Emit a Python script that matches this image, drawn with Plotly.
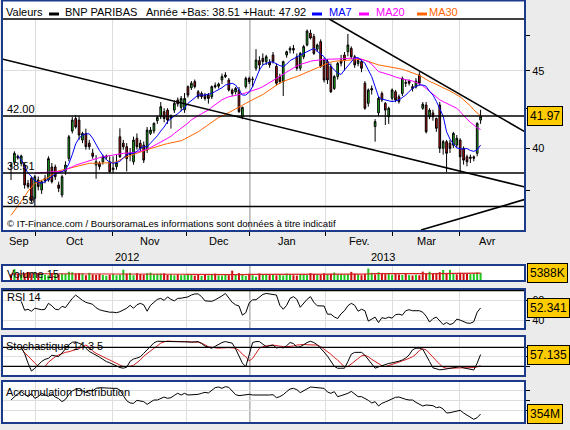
import math
import plotly.graph_objects as go

W, H = 570, 430

# ---------------- data (trading-day index 0..138) ----------------
OPEN = [38.98, 39.14, 39.50, 39.08, 38.98, 37.90, 38.20, 37.05, 38.10, 37.52,
        38.20, 38.10, 38.86, 38.86, 37.81, 37.24, 38.60, 39.37, 41.05, 41.84,
        41.74, 40.49, 40.90, 40.30, 39.70, 38.98, 39.08, 39.17, 39.45, 39.17,
        38.70, 38.88, 40.69, 40.30, 40.08, 39.60, 39.17, 40.60, 40.30, 40.18,
        39.88, 40.90, 41.05, 41.70, 41.95, 42.28, 42.38, 41.85, 42.38, 43.04,
        42.56, 42.40, 43.92, 43.85, 44.26, 43.58, 43.47, 43.36, 43.36, 43.25,
        44.00, 43.95, 44.37, 44.71, 44.37, 43.70, 43.58, 43.70, 41.95, 43.92,
        44.48, 44.40, 45.17, 45.70, 45.86, 45.63, 45.60, 46.09, 45.30, 44.60,
        44.26, 46.09, 46.44, 46.56, 45.97, 45.17, 45.97, 46.80, 47.65, 47.40,
        46.50, 47.04, 45.74, 45.63, 45.30, 43.80, 44.60, 45.74, 46.09, 46.32,
        46.56, 45.97, 45.50, 45.63, 44.15, 42.82, 43.80, 41.33, 42.20, 43.47,
        42.82, 41.95, 43.15, 43.58, 43.25, 43.47, 44.20, 44.30, 43.92, 43.90,
        44.71, 42.50, 42.71, 41.95, 42.20, 41.84, 42.71, 39.98, 40.39, 40.30,
        40.18, 40.18, 40.49, 39.98, 39.47, 39.45, 39.47, 39.68, 41.74]
HIGH = [39.15, 39.80, 39.60, 39.60, 39.10, 38.10, 38.30, 38.40, 38.30, 38.10,
        38.40, 39.50, 39.10, 39.00, 38.00, 38.40, 39.20, 40.80, 41.95, 42.05,
        42.00, 41.00, 41.20, 40.50, 39.95, 39.57, 39.20, 39.60, 39.60, 39.50,
        39.50, 39.60, 41.22, 40.50, 40.30, 40.00, 40.70, 40.90, 40.50, 40.40,
        41.30, 41.30, 41.60, 42.00, 42.90, 42.50, 42.50, 42.10, 43.00, 43.20,
        43.30, 43.50, 44.00, 44.30, 44.40, 43.70, 43.60, 43.50, 43.50, 44.00,
        44.20, 44.20, 44.80, 44.90, 44.50, 43.80, 43.90, 43.90, 42.60, 44.60,
        44.60, 44.60, 46.50, 46.00, 46.20, 46.10, 45.80, 46.30, 45.50, 44.80,
        45.70, 46.40, 46.70, 46.80, 46.20, 46.30, 46.80, 47.92, 47.90, 47.60,
        46.90, 47.20, 45.90, 45.80, 45.50, 44.70, 45.60, 46.10, 46.30, 47.60,
        46.70, 46.10, 45.90, 45.80, 44.30, 43.80, 44.00, 41.80, 43.30, 43.60,
        42.90, 42.60, 43.80, 43.70, 43.40, 44.60, 44.40, 44.40, 44.10, 44.50,
        44.90, 42.90, 42.90, 42.50, 42.40, 41.90, 42.90, 40.50, 40.50, 40.50,
        41.00, 40.80, 40.60, 40.10, 39.60, 39.60, 39.55, 41.60, 42.40]
LOW = [38.10, 39.00, 39.30, 38.90, 37.60, 37.60, 36.80, 36.58, 37.50, 37.30,
       37.90, 38.00, 37.90, 38.10, 37.40, 37.10, 38.40, 39.20, 40.90, 41.20,
       40.50, 40.30, 39.90, 39.90, 39.35, 38.17, 38.70, 39.00, 39.30, 38.50,
       38.50, 38.70, 39.40, 39.90, 38.60, 39.20, 39.00, 39.90, 39.80, 39.10,
       39.70, 40.80, 40.90, 41.50, 41.80, 41.60, 41.50, 41.20, 42.20, 42.60,
       42.30, 42.20, 43.20, 43.70, 43.80, 43.10, 43.10, 43.00, 42.80, 43.10,
       43.80, 43.80, 44.10, 44.50, 43.60, 43.30, 43.40, 42.20, 41.80, 43.80,
       44.10, 43.90, 45.00, 45.00, 45.40, 45.40, 45.20, 45.50, 44.00, 44.10,
       43.30, 45.90, 46.20, 46.20, 45.00, 45.00, 45.80, 46.70, 47.20, 46.10,
       46.30, 45.20, 44.20, 44.10, 43.50, 43.70, 44.40, 45.30, 45.00, 46.00,
       45.80, 45.20, 45.30, 44.90, 42.40, 42.60, 43.40, 40.39, 42.00, 42.90,
       41.43, 41.50, 43.00, 42.90, 42.80, 43.30, 43.90, 44.00, 43.60, 43.80,
       44.00, 42.40, 40.90, 41.80, 41.70, 41.00, 39.70, 39.60, 38.55, 39.70,
       40.00, 40.00, 38.51, 39.00, 38.90, 39.10, 39.20, 39.50, 41.50]
CLOSE = [38.92, 39.68, 39.40, 39.52, 37.81, 37.72, 36.95, 38.29, 37.72, 38.00,
         38.05, 39.36, 38.00, 38.29, 37.62, 38.29, 38.98, 40.69, 41.74, 41.30,
         40.80, 40.90, 40.08, 40.08, 39.50, 39.17, 38.88, 39.47, 39.50, 38.58,
         38.80, 39.10, 39.47, 40.08, 39.36, 39.70, 40.49, 40.08, 39.98, 39.27,
         41.11, 41.11, 41.53, 41.91, 42.60, 41.84, 41.74, 42.00, 42.82, 42.78,
         43.14, 43.14, 43.36, 44.15, 43.92, 43.25, 43.25, 43.14, 43.14, 43.92,
         43.90, 44.10, 44.60, 44.60, 43.70, 43.47, 43.80, 42.28, 42.56, 44.48,
         44.26, 44.42, 45.74, 45.40, 45.63, 45.97, 45.40, 45.63, 44.15, 44.26,
         45.63, 46.32, 46.56, 46.44, 45.17, 46.20, 46.68, 47.80, 47.30, 46.20,
         46.80, 45.30, 44.37, 44.37, 43.58, 44.60, 45.50, 45.52, 45.74, 46.80,
         45.97, 45.40, 45.70, 45.17, 42.50, 43.70, 43.70, 41.64, 43.14, 43.04,
         42.38, 42.50, 43.70, 43.04, 42.93, 44.48, 44.15, 44.15, 43.80, 44.30,
         44.15, 42.76, 41.00, 42.38, 41.95, 41.22, 39.98, 40.39, 39.68, 39.98,
         40.90, 40.60, 39.47, 39.27, 39.17, 39.38, 39.38, 41.53, 41.97]

VOLUME_K = [4200, 8200, 4500, 3800, 5200, 6000, 4300, 5800, 5200, 4600,
            4000, 3500, 5200, 4700, 4200, 5000, 4600, 6200, 5800, 4800,
            5200, 4900, 3600, 5400, 4200, 3900, 4400, 3700, 3200, 4000,
            4500, 3600, 4100, 7700, 4800, 5300, 3600, 5000, 4400, 4000,
            5100, 5500, 4200, 4600, 4800, 5000, 3900, 4300, 3500, 4200,
            3600, 3900, 4100, 3700, 3300, 4400, 3000, 3800, 3400, 3900,
            4800, 3500, 3300, 4000, 3600, 7000, 3800, 5200, 4200, 3000,
            4700, 3600, 2500, 4900, 3800, 4200, 3700, 4100, 3500, 4500,
            3400, 4800, 3800, 3600, 3300, 4400, 4100, 3700, 5200, 4600,
            4300, 3900, 5000, 4400, 4700, 5600, 4200, 4500, 3800, 4300,
            6100, 4800, 4400, 3600, 4600, 8600, 5400, 4200, 5800, 5300,
            4400, 4900, 3900, 5000, 4200, 3800, 4600, 3700, 3400, 4000,
            3600, 6300, 4800, 6200, 5000, 4600, 5900, 7500, 5200, 7600,
            4800, 4300, 5400, 5100, 4600, 4400, 4900, 5600, 5388]
VOLUME_MA15_K = [4400, 4500, 4500, 4500, 4550, 4600, 4600, 4650, 4700, 4700,
                 4700, 4650, 4650, 4700, 4700, 4700, 4750, 4800, 4850, 4850,
                 4850, 4850, 4800, 4800, 4750, 4700, 4650, 4600, 4500, 4450,
                 4450, 4400, 4400, 4550, 4600, 4600, 4550, 4550, 4550, 4550,
                 4600, 4650, 4650, 4600, 4650, 4650, 4600, 4550, 4450, 4400,
                 4350, 4300, 4250, 4200, 4150, 4100, 4050, 4000, 3950, 3950,
                 3950, 3900, 3900, 3900, 3850, 4050, 4050, 4100, 4100, 4050,
                 4100, 4050, 3950, 3950, 3950, 3950, 3950, 3900, 3900, 3900,
                 3950, 3950, 3950, 3950, 3950, 3950, 4000, 4000, 4050, 4050,
                 4100, 4100, 4150, 4200, 4250, 4300, 4300, 4350, 4350, 4400,
                 4450, 4450, 4450, 4450, 4500, 4750, 4800, 4800, 4850, 4900,
                 4900, 4950, 4950, 5000, 5000, 4950, 4900, 4850, 4800, 4800,
                 4750, 4600, 4650, 4700, 4700, 4750, 4800, 5000, 5050, 5200,
                 5200, 5200, 5250, 5250, 5250, 5200, 5200, 5200, 5150]

MA7_START = 2
MA7 = [39.5, 39.3, 38.85, 38.5, 38.3, 38.05, 37.97, 37.92,
       38.0, 38.15, 38.3, 38.45, 38.53, 38.58, 38.7, 39.05, 39.6, 40.25,
       40.6, 40.8, 40.87, 40.88, 40.6, 40.2, 39.85, 39.55, 39.3, 39.15,
       39.08, 39.12, 39.2, 39.4, 39.6, 39.68, 39.68, 39.8, 39.98, 40.08,
       40.08, 40.3, 40.5, 40.75, 41.05, 41.3, 41.65, 41.85, 42.0, 42.15,
       42.35, 42.52, 42.82, 43.0, 43.2, 43.36, 43.36, 43.36, 43.42, 43.47,
       43.6, 43.7, 43.85, 44.03, 44.1, 44.15, 44.03, 43.7, 43.36, 43.36,
       43.55, 43.92, 44.48, 45.05, 45.4, 45.52, 45.6, 45.6, 45.45, 45.35,
       45.29, 45.45, 45.7, 45.85, 45.95, 46.09, 46.2, 46.32, 46.45, 46.56,
       46.35, 46.15, 45.97, 45.6, 45.29, 45.05, 44.83, 44.75, 45.05, 45.35,
       45.63, 45.9, 45.9, 45.74, 45.52, 45.05, 44.6, 43.92, 43.25, 43.1,
       43.04, 42.98, 42.93, 42.98, 43.04, 43.2, 43.36, 43.6, 43.81, 43.95,
       44.03, 44.03, 43.95, 43.6, 43.36, 42.95, 42.5, 42.0, 41.0, 40.55,
       40.25, 40.0, 39.96, 39.94, 39.97, 39.85, 39.8, 39.88, 40.18]
MA20_START = 7
MA20 = [38.5, 38.52, 38.54,
        38.56, 38.58, 38.6, 38.6, 38.6, 38.6, 38.68, 38.77, 38.87, 38.97,
        39.04, 39.1, 39.17, 39.24, 39.31, 39.37, 39.42, 39.47, 39.51, 39.55,
        39.6, 39.64, 39.66, 39.68, 39.69, 39.7, 39.71, 39.75, 39.8, 39.86,
        39.93, 40.03, 40.13, 40.25, 40.37, 40.48, 40.6, 40.72, 40.9, 41.05,
        41.2, 41.37, 41.55, 41.75, 41.9, 42.05, 42.15, 42.27, 42.38, 42.57,
        42.75, 42.92, 43.05, 43.15, 43.25, 43.29, 43.33, 43.37, 43.44, 43.51,
        43.58, 43.66, 43.73, 43.81, 43.92, 44.04, 44.18, 44.33, 44.48, 44.63,
        44.78, 44.93, 45.08, 45.2, 45.33, 45.43, 45.52, 45.6, 45.65, 45.7,
        45.73, 45.76, 45.78, 45.8, 45.8, 45.8, 45.79, 45.8, 45.83, 45.86,
        45.86, 45.86, 45.86, 45.8, 45.72, 45.63, 45.45, 45.2, 44.94, 44.88,
        44.82, 44.75, 44.66, 44.57, 44.48, 44.44, 44.4, 44.37, 44.3, 44.22,
        44.12, 43.98, 43.8, 43.62, 43.42, 43.22, 43.05, 42.93, 42.82, 42.72,
        42.61, 42.5, 42.28, 42.02, 41.8, 41.6, 41.42, 41.25, 41.15]
MA30_START = 0
MA30 = [36.1, 36.35, 36.6, 36.9, 37.15, 37.45, 37.7, 37.9, 38.0, 38.08,
        38.15, 38.25, 38.4, 38.55, 38.63, 38.68, 38.72, 38.77, 38.84, 38.9,
        38.95, 38.98, 39.03, 39.08, 39.08, 39.08, 39.1, 39.11, 39.1, 39.08,
        39.12, 39.17, 39.3, 39.4, 39.47, 39.55, 39.63, 39.7, 39.76, 39.83,
        39.9, 39.97, 40.05, 40.11, 40.16, 40.22, 40.27, 40.31, 40.35, 40.4,
        40.45, 40.55, 40.65, 40.78, 40.9, 41.0, 41.15, 41.3, 41.43, 41.6,
        41.77, 41.9, 42.0, 42.1, 42.2, 42.33, 42.46, 42.6, 42.7, 42.82,
        42.93, 43.04, 43.15, 43.25, 43.4, 43.55, 43.72, 43.87, 44.02, 44.17,
        44.27, 44.37, 44.46, 44.53, 44.6, 44.7, 44.8, 44.9, 45.0, 45.1,
        45.2, 45.3, 45.38, 45.5, 45.6, 45.65, 45.68, 45.7, 45.72, 45.73,
        45.74, 45.76, 45.78, 45.79, 45.72, 45.63, 45.55, 45.47, 45.4, 45.36,
        45.32, 45.29, 45.25, 45.2, 45.17, 45.1, 45.02, 44.94, 44.86, 44.78,
        44.68, 44.55, 44.4, 44.27, 44.18, 44.08, 43.97, 43.86, 43.75, 43.63,
        43.5, 43.4, 43.25, 43.05, 42.87, 42.65, 42.4, 42.2, 42.0]

RSI_START = 3
RSI = [59, 50, 51, 49, 52, 51.5, 50.5,
       51, 57, 54.5, 51, 50.5, 54, 52.7, 58, 62, 65.4,
       62.2, 60, 58, 57, 56, 52.5, 50.5, 49.5, 48.5, 48,
       48, 47.5, 48.5, 50.5, 52, 55, 52, 55.5, 57, 55.5,
       49, 55, 58.5, 61, 62, 60, 63.5, 61, 59.5, 62,
       62.2, 62.5, 63.5, 65.4, 66.5, 66.5, 63.8, 59.5, 59, 59,
       60.5, 62.2, 64.5, 67, 62, 58, 55.5, 54.3, 45, 47.5,
       57.5, 60.6, 60.6, 63.8, 66, 67, 66.5, 66, 65.4, 55,
       51, 55, 62, 63.8, 61, 53, 57, 61, 63.8, 58,
       54.5, 54.3, 54.3, 46, 46, 43.2, 41.6, 46.4, 49.5, 54.5,
       57, 55, 49, 51, 49.5, 39, 41, 43, 37.5, 42.5,
       41.6, 43, 42, 45.5, 46, 45, 49.5, 50.5, 49.5, 49.5,
       49.5, 48, 44, 38, 41.5, 43, 39.5, 35.5, 37.5, 35.5,
       36.8, 41, 40, 38.5, 37, 36.8, 38.4, 48, 52.341]

STOCH_START = 3
STOCH_K = [80, 60, 30, 5, 13.7, 24, 35,
           42, 45, 55, 53, 50.6, 62, 76, 88, 96, 97,
           92.7, 88, 77, 67, 61, 56, 49, 42, 35, 31,
           26, 21, 16, 14, 17, 36, 43, 46, 50, 61,
           73, 84, 94, 99, 99, 98, 98, 98, 98, 98,
           98, 98, 97, 96, 97, 98, 92, 84, 80, 77,
           83, 90, 95, 98, 96, 93, 75, 50, 30, 19,
           60, 95, 98, 98, 90, 82, 85, 87, 78, 80,
           78, 85, 95, 92, 80, 82, 88, 95, 99, 95,
           88, 78, 65, 52, 35, 20, 13.7, 13.7, 14, 35,
           58, 64, 64, 64, 55, 40, 25, 14, 18, 22,
           26, 29, 31, 33, 36, 40, 46, 56, 72, 77,
           77, 74, 56, 35, 15, 11, 9, 10, 12, 13.7,
           16, 18, 19, 15, 12, 10, 8.4, 30, 57.135]
STOCH_D = [77, 62, 53, 40, 30, 20, 19,
           19, 33, 43, 50, 56, 61, 64, 66, 69, 72,
           76, 82, 87, 80, 68, 61, 55, 50, 45, 40,
           34, 30, 24, 19, 19, 20, 23, 31, 40, 52,
           60, 68, 76, 86, 93, 97, 100, 99, 98, 98,
           98, 98, 98, 98, 98, 96, 93, 87, 82, 80,
           78, 77, 78, 79, 79, 78, 77, 70, 58, 50,
           37, 45, 62, 77, 82, 85, 86, 87, 85, 82,
           82, 82, 82, 84, 87, 89, 89, 88, 88, 87,
           87, 82, 74, 67, 58, 48, 40, 28, 19, 19,
           27, 35, 45, 53, 55, 50, 42, 35, 28, 22,
           19, 22, 26, 29, 33, 37, 40, 45, 50, 58,
           70, 75, 72, 60, 48, 35, 26, 17, 14, 14,
           14, 15, 15, 16, 16, 16, 16, 18, 22]

AD_M = [396, 405, 415, 421, 412, 406, 415, 401, 406, 416,
        411, 407, 414, 405, 400, 391, 398, 413, 423, 428,
        424, 424, 418, 425, 423, 431, 433, 432, 431, 431,
        431, 431, 426, 409, 394, 387, 386, 395, 392, 391,
        383, 389, 396, 396, 400, 405, 401, 403, 410, 416,
        411, 416, 411, 411, 413, 413, 416, 419, 417, 426,
        433, 435, 431, 436, 434, 423, 412, 409, 410, 412,
        413, 411, 411, 410, 409, 409, 411, 412, 403, 406,
        412, 421, 429, 431, 427, 418, 424, 430, 435, 434,
        433, 433, 431, 420, 416, 421, 406, 409, 412, 416,
        422, 415, 406, 406, 401, 395, 387, 391, 378, 386,
        390, 395, 399, 404, 405, 401, 398, 396, 396, 389,
        383, 378, 381, 379, 379, 373, 375, 369, 357, 358,
        360, 361, 365, 357, 351, 346, 338, 343, 354]

LEVELS = [42.00, 38.51, 36.59]
LEVEL_LABELS = ["42.00", "38.51", "36.59"]
TRENDLINES = [((-2.65, 45.81), (151.05, 37.69)),
              ((93.5, 48.69), (151.05, 41.00)),
              ((120.5, 35.30), (151.05, 36.99))]
MONTH_BOUNDS = [7.05, 29.7, 51.7, 92.3, 112.0, 131.9]
YEAR_BOUND = 70.2
MONTH_LABELS = ["Sep", "Oct", "Nov", "Dec", "Jan", "Fev.", "Mar", "Avr"]
MONTH_LABEL_POS = [2.35, 18.8, 40.8, 61.0, 81.0, 102.5, 122.2, 139.9]
YEAR_LABELS = ["2012", "2013"]
YEAR_LABEL_POS = [34.0, 109.2]

PRICE_RANGE = [35.25, 48.69]
X_RANGE = [-2.65, 151.05]

# ---------------- styling ----------------
FONT = "Liberation Sans"
NAVY = "#1b3a8a"
GRID = "#dedede"
UP = "#1ec81e"
DOWN = "#cc1010"
BG = "#ebebeb"

n = len(CLOSE)
idx = list(range(n))


def ydom(top_px, bot_px):
    return [1 - bot_px / H, 1 - top_px / H]


def px_x(p):
    return p / W


def px_y(p):
    return 1 - p / H


fig = go.Figure()

# price panel
fig.add_trace(go.Candlestick(
    x=idx, open=OPEN, high=HIGH, low=LOW, close=CLOSE,
    increasing=dict(fillcolor=UP, line=dict(color="black", width=1)),
    decreasing=dict(fillcolor=DOWN, line=dict(color="black", width=1)),
    whiskerwidth=0, hoverinfo="skip", xaxis="x", yaxis="y"))
for start, vals, col in [(MA30_START, MA30, "#ff6600"), (MA20_START, MA20, "#ff00ff"),
                         (MA7_START, MA7, "#0000ff")]:
    fig.add_trace(go.Scatter(x=idx[start:start + len(vals)], y=vals, mode="lines",
                             line=dict(color=col, width=1), xaxis="x", yaxis="y"))
for lv in LEVELS:
    fig.add_trace(go.Scatter(x=X_RANGE, y=[lv, lv], mode="lines",
                             line=dict(color="black", width=1.5), xaxis="x", yaxis="y"))
for (x0, y0), (x1, y1) in TRENDLINES:
    fig.add_trace(go.Scatter(x=[x0, x1], y=[y0, y1], mode="lines",
                             line=dict(color="black", width=1.6), xaxis="x", yaxis="y"))

# volume panel
vcolors = []
for i in range(n):
    ref = CLOSE[i - 1] if i > 0 else OPEN[i]
    vcolors.append(UP if CLOSE[i] >= ref else DOWN)
fig.add_trace(go.Bar(x=idx, y=VOLUME_K, marker=dict(color=vcolors, line=dict(width=0)),
                     width=0.6, xaxis="x2", yaxis="y2"))
fig.add_trace(go.Scatter(x=idx, y=VOLUME_MA15_K, mode="lines",
                         line=dict(color="#d42020", width=1.2), xaxis="x2", yaxis="y2"))

# RSI
fig.add_trace(go.Scatter(x=idx[RSI_START:RSI_START + len(RSI)], y=RSI, mode="lines",
                         line=dict(color="black", width=1), xaxis="x3", yaxis="y3"))
# Stochastic
fig.add_trace(go.Scatter(x=idx[STOCH_START:STOCH_START + len(STOCH_D)], y=STOCH_D, mode="lines",
                         line=dict(color="#d42020", width=1), xaxis="x4", yaxis="y4"))
fig.add_trace(go.Scatter(x=idx[STOCH_START:STOCH_START + len(STOCH_K)], y=STOCH_K, mode="lines",
                         line=dict(color="black", width=1), xaxis="x4", yaxis="y4"))
# Accumulation / Distribution
fig.add_trace(go.Scatter(x=idx, y=AD_M, mode="lines",
                         line=dict(color="black", width=1), xaxis="x5", yaxis="y5"))

XDOM = [px_x(2), px_x(525)]
xcommon = dict(domain=XDOM, range=X_RANGE, tickvals=MONTH_BOUNDS, showticklabels=False,
               showgrid=True, gridcolor=GRID, gridwidth=1, zeroline=False, showline=False,
               fixedrange=True)
layout = dict(
    width=W, height=H, margin=dict(l=0, r=0, t=0, b=0),
    paper_bgcolor=BG, plot_bgcolor="white", showlegend=False, hovermode=False,
    font=dict(family=FONT, size=11, color="black"),
    xaxis=dict(xcommon, anchor="y", ticks="outside", ticklen=4, tickcolor="black",
               minor=dict(tickvals=[YEAR_BOUND], ticks="outside", ticklen=4,
                          tickcolor="black", showgrid=False),
               rangeslider=dict(visible=False)),
    xaxis2=dict(xcommon, anchor="y2", matches="x", ticks=""),
    xaxis3=dict(xcommon, anchor="y3", matches="x", ticks=""),
    xaxis4=dict(xcommon, anchor="y4", matches="x", ticks=""),
    xaxis5=dict(xcommon, anchor="y5", matches="x", ticks=""),
    yaxis=dict(domain=ydom(19, 231), type="log",
               range=[math.log10(PRICE_RANGE[0]), math.log10(PRICE_RANGE[1])],
               side="right", anchor="x", tickvals=[40, 45], ticktext=["40", "45"],
               ticks="outside", ticklen=4, tickcolor="black", showgrid=True, gridcolor=GRID,
               minor=dict(tickvals=[37.5, 42.5, 47.5], ticks="outside", ticklen=4,
                          tickcolor="black", showgrid=False),
               zeroline=False, showline=False, tickfont=dict(size=11)),
    yaxis2=dict(domain=ydom(266, 280), range=[0, 10500], side="right", anchor="x2",
                showticklabels=False, ticks="", showgrid=False, zeroline=False),
    yaxis3=dict(domain=ydom(290, 328), range=[32, 70.5], side="right", anchor="x3",
                tickvals=[40, 60], ticks="outside", ticklen=4, tickcolor="black",
                showgrid=True, gridcolor=GRID, zeroline=False, tickfont=dict(size=11)),
    yaxis4=dict(domain=ydom(337, 375), range=[-7.5, 112.5], side="right", anchor="x4",
                tickvals=[20, 50, 80], ticktext=["", "", ""], ticks="outside", ticklen=4,
                tickcolor="black", showgrid=True, gridcolor=GRID, zeroline=False),
    yaxis5=dict(domain=ydom(382, 422), range=[330, 450], side="right", anchor="x5",
                tickvals=[366, 396, 426], ticktext=["", "", ""], ticks="outside", ticklen=4,
                tickcolor="black", showgrid=True, gridcolor=GRID, zeroline=False),
)
fig.update_layout(**layout)

shapes = []
# header white area
shapes.append(dict(type="rect", xref="paper", yref="paper", x0=px_x(2), x1=px_x(525),
                   y0=px_y(19), y1=px_y(0), fillcolor="white", line=dict(width=0), layer="below"))
# year boundary darker line in every panel
for k in ["", "2", "3", "4", "5"]:
    shapes.append(dict(type="line", xref="x" + k, yref=("y" + k) + " domain",
                       x0=YEAR_BOUND, x1=YEAR_BOUND, y0=0, y1=1,
                       line=dict(color="#a0a0a0", width=1.2), layer="below"))
# reference lines
shapes.append(dict(type="line", xref="x3 domain", yref="y3", x0=0, x1=1, y0=70, y1=70,
                   line=dict(color="black", width=1.5)))
for lv in [20, 80]:
    shapes.append(dict(type="line", xref="x4 domain", yref="y4", x0=0, x1=1, y0=lv, y1=lv,
                       line=dict(color="black", width=1.2)))
# header separator
shapes.append(dict(type="line", xref="paper", yref="paper", x0=px_x(2), x1=px_x(525),
                   y0=px_y(19), y1=px_y(19), line=dict(color="black", width=1.5)))
# header legend swatches
for x0, col in [(49, "black"), (312, "#0000ff"), (359, "#ff00ff"), (417, "#ff6600")]:
    shapes.append(dict(type="rect", xref="paper", yref="paper", x0=px_x(x0), x1=px_x(x0 + 10),
                       y0=px_y(15.5), y1=px_y(12.5), fillcolor=col, line=dict(width=0)))
# panel borders
for top, bot in [(0.5, 231), (265, 281), (289, 329), (336, 376), (381, 423)]:
    shapes.append(dict(type="rect", xref="paper", yref="paper", x0=px_x(2), x1=px_x(525),
                       y0=px_y(bot), y1=px_y(top), line=dict(color=NAVY, width=2),
                       fillcolor="rgba(0,0,0,0)"))

ann = []


def txt(x, y, s, color="black", size=11, xanchor="left", xref="paper", yref="paper"):
    ann.append(dict(x=x, y=y, xref=xref, yref=yref, text=s, showarrow=False,
                    xanchor=xanchor, yanchor="middle",
                    font=dict(family=FONT, size=size, color=color)))


txt(px_x(4), px_y(12), "Valeurs")
txt(px_x(63), px_y(12), "BNP PARIBAS")
txt(px_x(144), px_y(12), "Année +Bas: 38.51 +Haut: 47.92")
txt(px_x(327), px_y(12), "MA7", color="#0000ff")
txt(px_x(374), px_y(12), "MA20", color="#ff00ff")
txt(px_x(427), px_y(12), "MA30", color="#ff6600")
txt(px_x(5), px_y(223), "© IT-Finance.com / BoursoramaLes informations sont données à titre indicatif",
    size=9.6)

for lab, lv in zip(LEVEL_LABELS, LEVELS):
    ann.append(dict(x=px_x(5), y=math.log10(lv), xref="paper", yref="y", text=lab,
                    showarrow=False, xanchor="left", yanchor="middle", yshift=7,
                    font=dict(family=FONT, size=11, color="black")))

for lab, pos in zip(MONTH_LABELS, MONTH_LABEL_POS):
    txt(pos, px_y(241.5), lab, xanchor="center", xref="x")
for lab, pos in zip(YEAR_LABELS, YEAR_LABEL_POS):
    txt(pos, px_y(256.5), lab, xanchor="center", xref="x")

txt(px_x(5), px_y(274), "Volume 15")
txt(px_x(5), px_y(297), "RSI 14")
txt(px_x(4), px_y(345.5), "Stochastique 14 3 5")
txt(px_x(4), px_y(392), "Accumulation Distribution")


def vbox(yref, yval, s):
    ann.append(dict(x=px_x(527), y=yval, xref="paper", yref=yref, text=s, showarrow=False,
                    xanchor="left", yanchor="middle", bgcolor="#ffcc00", bordercolor="black",
                    borderwidth=1, borderpad=2, font=dict(family=FONT, size=12, color="black")))


vbox("y", math.log10(CLOSE[-1]), f"{CLOSE[-1]:.2f}")
vbox("y2", VOLUME_K[-1], f"{VOLUME_K[-1]}K")
vbox("y3", RSI[-1], f"{RSI[-1]:.3f}")
vbox("y4", STOCH_K[-1], f"{STOCH_K[-1]:.3f}")
vbox("y5", AD_M[-1], f"{AD_M[-1]}M")

fig.update_layout(shapes=shapes, annotations=ann)
fig.write_html("out.html")
